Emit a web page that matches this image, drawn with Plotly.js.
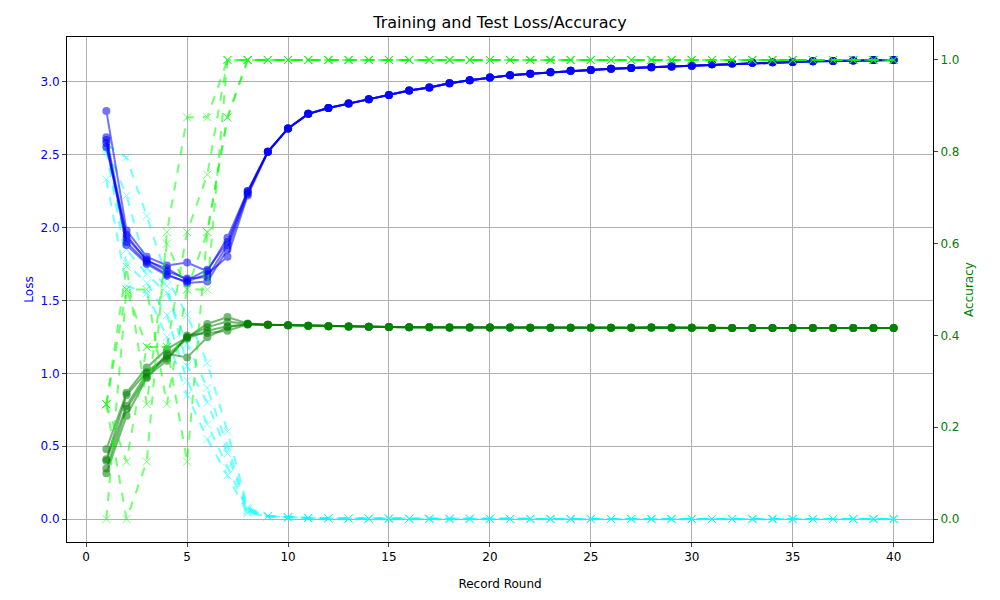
<!DOCTYPE html>
<html>
<head>
<meta charset="utf-8">
<script src="https://cdn.plot.ly/plotly-3.0.1.min.js"></script>
<style>html,body{margin:0;padding:0;background:#fff}#chart{width:1000px;height:600px}</style>
</head>
<body>
<div id="chart"></div>
<script>
// rounds 1..40; first 8 rounds differ per client, from round 9 they coincide
const rounds = Array.from({ length: 40 }, (_, i) => i + 1);

const trainLossEarly = [
    [2.80, 1.98, 1.80, 1.74, 1.76, 1.70, 1.93, 2.25],
    [2.62, 1.93, 1.78, 1.70, 1.65, 1.66, 1.88, 2.24],
    [2.60, 1.90, 1.76, 1.68, 1.62, 1.63, 1.85, 2.23],
    [2.58, 1.88, 1.75, 1.67, 1.63, 1.68, 1.80, 2.22],
    [2.55, 1.95, 1.77, 1.72, 1.64, 1.71, 1.90, 2.25]
];
const trainLossTail = [2.52, 2.68, 2.78, 2.82, 2.85, 2.88, 2.91, 2.94, 2.96, 2.99, 3.01, 3.03,
    3.045, 3.055, 3.065, 3.075, 3.08, 3.09, 3.095, 3.10, 3.105, 3.11, 3.12, 3.125, 3.13, 3.133,
    3.136, 3.14, 3.143, 3.146, 3.149, 3.15];

const testLossEarly = [
    [2.57, 2.48, 2.08, 1.65, 1.40, 1.07, 0.60, 0.08],
    [2.55, 2.22, 1.72, 1.60, 1.05, 0.80, 0.45, 0.05],
    [2.53, 1.75, 1.62, 1.40, 0.95, 0.65, 0.35, 0.06],
    [2.33, 1.60, 1.55, 1.25, 0.85, 0.55, 0.30, 0.04],
    [2.55, 1.85, 1.68, 1.55, 1.20, 0.90, 0.50, 0.07]
];
const testLossTail = [0.02, 0.012, 0.008, 0.005, 0.004, 0.003, 0.003, 0.002, 0.002, 0.002, 0.002,
    0.002, 0.001, 0.001, 0.001, 0.001, 0.001, 0.001, 0.001, 0.001, 0.001, 0.001, 0.001, 0.001,
    0.001, 0.001, 0.001, 0.001, 0.001, 0.001, 0.001, 0.001];

const trainAccEarly = [
    [0.152, 0.275, 0.330, 0.370, 0.396, 0.425, 0.440, 0.426],
    [0.130, 0.270, 0.320, 0.355, 0.396, 0.418, 0.430, 0.425],
    [0.127, 0.247, 0.317, 0.350, 0.393, 0.410, 0.420, 0.424],
    [0.110, 0.240, 0.310, 0.345, 0.400, 0.405, 0.410, 0.424],
    [0.100, 0.225, 0.307, 0.360, 0.352, 0.396, 0.418, 0.425]
];
const trainAccTail = [0.423, 0.422, 0.421, 0.420, 0.4195, 0.419, 0.4185, 0.418, 0.4178, 0.4175,
    0.4172, 0.417, 0.417, 0.4168, 0.4166, 0.4165, 0.4165, 0.4165, 0.4165, 0.4175, 0.4168, 0.4165,
    0.4163, 0.4162, 0.416, 0.416, 0.416, 0.416, 0.416, 0.416, 0.416, 0.416];

const testAccEarly = [
    [0.250, 0.000, 0.125, 0.625, 0.875, 0.875, 1.000, 1.000],
    [0.250, 0.125, 0.375, 0.375, 0.625, 0.750, 1.000, 1.000],
    [0.000, 0.500, 0.375, 0.375, 0.125, 0.625, 0.875, 1.000],
    [0.250, 0.500, 0.500, 0.250, 0.500, 0.500, 1.000, 1.000],
    [0.250, 0.550, 0.250, 0.600, 0.500, 0.625, 0.875, 1.000]
];
const testAccTail = [1, 1, 1, 1, 1, 1, 1, 1, 1, 1, 1, 1, 1, 1, 1, 1,
    1, 1, 1, 1, 1, 1, 1, 1, 1, 1, 1, 1, 1, 1, 1, 1];

const traces = [];
function addGroup(early, tail, color, dash, symbol, yaxis) {
    early.forEach(e => {
        traces.push({
            x: rounds, y: e.concat(tail), yaxis: yaxis,
            mode: "lines+markers", opacity: 0.55,
            line: { color: color, width: 2, dash: dash },
            marker: { color: color, size: 8, symbol: symbol },
            showlegend: false, hoverinfo: "x+y"
        });
    });
}
addGroup(trainAccEarly, trainAccTail, "#008000", "solid", "circle", "y2");
addGroup(testAccEarly, testAccTail, "#00ff00", "dash", "x-thin-open", "y2");
addGroup(testLossEarly, testLossTail, "#00ffff", "dash", "x-thin-open", "y");
addGroup(trainLossEarly, trainLossTail, "#0000ff", "solid", "circle", "y");

const font = "DejaVu Sans, sans-serif";
const layout = {
    width: 1000, height: 600,
    margin: { l: 67, r: 67, t: 37, b: 58 },
    paper_bgcolor: "#fff", plot_bgcolor: "#fff",
    font: { family: font, size: 12, color: "#000" },
    title: { text: "Training and Test Loss/Accuracy", font: { size: 16 }, x: 0.5, y: 0.962, yanchor: "middle" },
    xaxis: {
        range: [-0.95, 41.95], dtick: 5, tick0: 0,
        showgrid: true, gridcolor: "#b0b0b0", zeroline: false,
        showline: true, linecolor: "#000", mirror: true, ticks: "outside", ticklen: 4,
        title: { text: "Record Round", font: { size: 12 } }
    },
    yaxis: {
        range: [-0.157, 3.307], dtick: 0.5, tickformat: ".1f",
        showgrid: true, gridcolor: "#b0b0b0", zeroline: false,
        showline: true, linecolor: "#000", ticks: "outside", ticklen: 4,
        tickfont: { color: "#0000ff" },
        title: { text: "Loss", font: { color: "#0000ff", size: 12 } }
    },
    yaxis2: {
        overlaying: "y", side: "right",
        range: [-0.05, 1.05], dtick: 0.2, tickformat: ".1f",
        showgrid: false, zeroline: false,
        showline: true, linecolor: "#000", ticks: "outside", ticklen: 4,
        tickfont: { color: "#008000" },
        title: { text: "Accuracy", font: { color: "#008000", size: 12 } }
    }
};

Plotly.newPlot("chart", traces, layout, { displayModeBar: false });
</script>
</body>
</html>
